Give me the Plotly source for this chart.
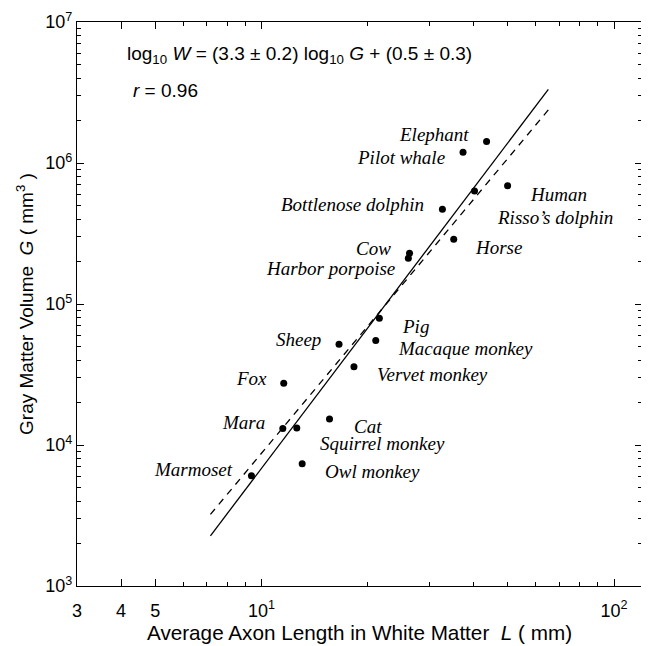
import numpy as np
import plotly.graph_objects as go

species = ["Elephant", "Pilot whale", "Human", "Risso\u2019s dolphin", "Bottlenose dolphin",
           "Horse", "Cow", "Harbor porpoise", "Pig", "Macaque monkey", "Sheep",
           "Vervet monkey", "Fox", "Mara", "Cat", "Squirrel monkey", "Owl monkey", "Marmoset"]
axon_length = [43.5, 37.3, 49.9, 40.2, 32.6, 35.1, 26.3, 26.1, 21.6, 21.1, 16.6,
               18.3, 11.57, 11.5, 15.6, 12.6, 13.05, 9.37]
gray_volume = [1.42e6, 1.19e6, 6.9e5, 6.32e5, 4.7e5, 2.88e5, 2.29e5, 2.11e5, 7.93e4, 5.5e4, 5.18e4,
               3.59e4, 2.74e4, 1.31e4, 1.53e4, 1.32e4, 7.36e3, 6.06e3]

fit_x = [7.17, 65.1]
fit_solid = [2.27e3, 3.33e6]
fit_dashed = [3.22e3, 2.38e6]

x_tickvals = [3, 4, 5, 10, 100]
x_ticktext = ["3", "4", "5", "10<sup>1</sup>", "10<sup>2</sup>"]
y_tickvals = [1e3, 1e4, 1e5, 1e6, 1e7]
y_ticktext = ["10<sup>3</sup>", "10<sup>4</sup>", "10<sup>5</sup>", "10<sup>6</sup>", "10<sup>7</sup>"]

# label offsets (pixels) and anchors
label_pos = {
    "Elephant": ("right", -16, 7),
    "Pilot whale": ("right", -16, -5),
    "Human": ("left", 20, -9),
    "Risso\u2019s dolphin": ("left", 20, -26),
    "Bottlenose dolphin": ("right", -16, 5),
    "Horse": ("left", 19, -8),
    "Cow": ("right", -17, 5),
    "Harbor porpoise": ("right", -11, -10),
    "Pig": ("left", 21, -8),
    "Macaque monkey": ("left", 20, -8),
    "Sheep": ("right", -16, 5),
    "Vervet monkey": ("left", 21, -8),
    "Fox": ("right", -15, 5),
    "Mara": ("right", -16, 6),
    "Cat": ("left", 22, -8),
    "Squirrel monkey": ("left", 21, -15),
    "Owl monkey": ("left", 21, -8),
    "Marmoset": ("right", -16, 6),
}

fig = go.Figure()
fig.add_trace(go.Scatter(x=fit_x, y=fit_solid, mode="lines",
                         line=dict(color="black", width=1.3), showlegend=False))
fig.add_trace(go.Scatter(x=fit_x, y=fit_dashed, mode="lines",
                         line=dict(color="black", width=1.3, dash="7px,6px"), showlegend=False))
fig.add_trace(go.Scatter(x=axon_length, y=gray_volume, mode="markers",
                         marker=dict(color="black", size=7), showlegend=False))

annotations = []
for name, xv, yv in zip(species, axon_length, gray_volume):
    anchor, dx, dy = label_pos[name]
    annotations.append(dict(
        x=np.log10(xv), y=np.log10(yv), xref="x", yref="y",
        text=f"<i>{name}</i>", showarrow=False,
        xanchor=anchor, yanchor="middle", xshift=dx, yshift=dy,
        font=dict(family="Liberation Serif", size=19, color="black")))

annotations.append(dict(
    x=0.085, y=0.941, xref="paper", yref="paper", xanchor="left", yanchor="middle",
    text="log<sub>10</sub> <i>W</i> = (3.3 \u00b1 0.2) log<sub>10</sub> <i>G</i> + (0.5 \u00b1 0.3)",
    showarrow=False, font=dict(family="Liberation Sans", size=19, color="black")))
annotations.append(dict(
    x=0.095, y=0.879, xref="paper", yref="paper", xanchor="left", yanchor="middle",
    text="<i>r</i> = 0.96",
    showarrow=False, font=dict(family="Liberation Sans", size=19, color="black")))

x_minor = [6, 7, 8, 9, 20, 30, 40, 50, 60, 70, 80, 90]
y_minor = []
for d in [1e3, 1e4, 1e5, 1e6]:
    for k in range(2, 10):
        y_minor.append(k * d)

fig.update_layout(
    width=641, height=638,
    margin=dict(l=69, r=7, t=14, b=60),
    paper_bgcolor="white", plot_bgcolor="white",
    font=dict(family="Liberation Sans", size=18, color="black"),
    annotations=annotations,
    xaxis=dict(type="log", range=[np.log10(3), np.log10(120)], automargin=False,
               tickmode="array", tickvals=x_tickvals, ticktext=x_ticktext,
               ticks="inside", ticklen=7, tickwidth=1, tickcolor="black",
               ticklabelstandoff=8,
               minor=dict(tickmode="array", tickvals=x_minor, ticks="inside", ticklen=4, tickcolor="black"),
               showline=True, linecolor="black", linewidth=1.3, mirror="ticks",
               showgrid=False, zeroline=False,
               title=dict(text="Average Axon Length in White Matter  <i>L</i> ( mm)",
                          font=dict(size=20.7), standoff=2),
               tickfont=dict(size=18)),
    yaxis=dict(type="log", range=[3, 7], automargin=False,
               tickmode="array", tickvals=y_tickvals, ticktext=y_ticktext,
               ticks="inside", ticklen=7, tickwidth=1, tickcolor="black",
               minor=dict(tickmode="array", tickvals=y_minor, ticks="inside", ticklen=4, tickcolor="black"),
               showline=True, linecolor="black", linewidth=1.3, mirror="ticks",
               showgrid=False, zeroline=False,
               title=dict(text="Gray Matter Volume  <i>G</i> ( mm<sup>3</sup> )",
                          font=dict(size=19), standoff=6),
               tickfont=dict(size=18)),
)

fig.write_html("out.html")
